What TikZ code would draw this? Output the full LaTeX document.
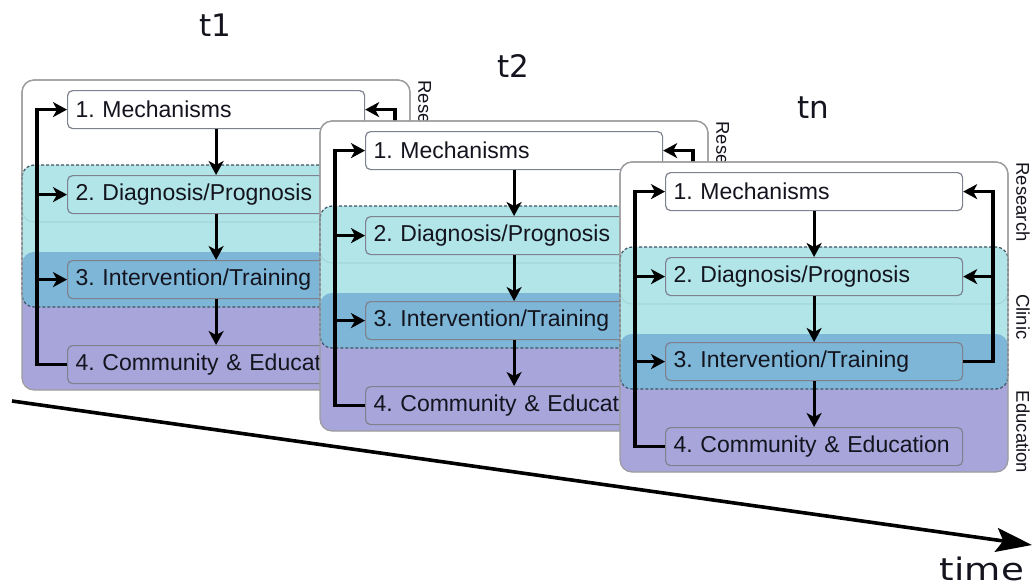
\documentclass[tikz,border=0pt]{standalone}
\usepackage{fontspec}
\setmainfont{Liberation Sans}
\newfontfamily\titleFont{DejaVu Sans}
\usepackage{xcolor}
\usetikzlibrary{arrows.meta, positioning}

\definecolor{panelGray}{HTML}{9C9C9C}
\definecolor{boxGray}{HTML}{7E828E}
\definecolor{dashGray}{HTML}{3E5262}
\definecolor{clinicCyan}{HTML}{A4E1E4}
\definecolor{overlapBlue}{HTML}{7DB6D7}
\definecolor{eduPurple}{HTML}{A8A5DB}
\definecolor{textDark}{HTML}{14141E}

\tikzset{
    stepBox/.style={draw=boxGray, line width=1.2pt, rounded corners=5pt, anchor=north west,
        minimum height=38pt, text width=281pt, inner xsep=8pt, inner ysep=0pt, align=left,
        font=\fontsize{23}{27}\selectfont, text=textDark},
    flowArrow/.style={-{Stealth[length=14pt, width=15pt, inset=4pt]}, line width=3.2pt},
    sideLabel/.style={rotate=-90, font=\fontsize{18.5}{22}\selectfont, text=textDark},
    titleText/.style={anchor=base, inner sep=0pt, font=\titleFont\fontsize{31}{36}\selectfont, text=textDark},
    timeArrow/.style={-{Stealth[length=36pt, width=24pt, inset=7pt]}, line width=3.6pt}
}

% one time slice: name, origin, title
\newcommand{\drawPanel}[3]{%
\begin{scope}[shift={#2}]
    % Panel background and layers
    \fill[white, rounded corners=12pt] (0,0) rectangle (388,310);
    \fill[eduPurple, rounded corners=12pt] (0,172) rectangle (388,310);
    \filldraw[fill=white, draw=panelGray, line width=1.2pt, rounded corners=12pt] (0,0) rectangle (388,142);
    \fill[clinicCyan, fill opacity=0.85, rounded corners=12pt] (0,85) rectangle (388,227);
    \begin{scope}
        \clip[rounded corners=12pt] (0,172) rectangle (388,310);
        \fill[overlapBlue, rounded corners=12pt] (0,85) rectangle (388,227);
    \end{scope}
    \draw[dashGray, densely dashed, line width=1.2pt, rounded corners=12pt] (0,85) rectangle (388,227);
    \draw[panelGray, line width=1.2pt, rounded corners=12pt] (0,0) rectangle (388,310);

    % Steps
    \node[stepBox, fill=white] (#1-1) at (45,10) {1. Mechanisms};
    \node[stepBox] (#1-2) at (45,95) {2. Diagnosis/Prognosis};
    \node[stepBox] (#1-3) at (45,180) {3. Intervention/Training};
    \node[stepBox] (#1-4) at (45,265) {4. Community \& Education};

    % Flow downwards
    \draw[flowArrow] (#1-1) -- (#1-2);
    \draw[flowArrow] (#1-2) -- (#1-3);
    \draw[flowArrow] (#1-3) -- (#1-4);

    % Feedback loops
    \coordinate (#1-left) at (15,0);
    \coordinate (#1-right) at (373,0);
    \draw[flowArrow] (#1-4.west) -- (#1-4.west -| #1-left) |- (#1-1.west);
    \draw[flowArrow] (#1-2.west -| #1-left) -- (#1-2.west);
    \draw[flowArrow] (#1-3.west -| #1-left) -- (#1-3.west);
    \draw[flowArrow] (#1-3.east) -- (#1-3.east -| #1-right) |- (#1-1.east);
    \draw[flowArrow] (#1-2.east -| #1-right) -- (#1-2.east);

    % Layer labels
    \node[sideLabel] (#1-research) at (403,40) {Research};
    \node[sideLabel] (#1-clinic) at (403,155) {Clinic};
    \node[sideLabel] (#1-education) at (403,270) {Education};

    % Time point
    \node[titleText] (#1-title) at (193,-44) {#3};
\end{scope}}

\frenchspacing

\begin{document}
\begin{tikzpicture}[x=1pt, y=-1pt]
    \useasboundingbox (0,0) rectangle (1033,587);

    % Slices, later ones on top
    \drawPanel{pa}{(22,80)}{t1}
    \drawPanel{pb}{(320,121)}{t2}
    \drawPanel{pn}{(620,162)}{tn}

    % Time axis
    \coordinate (timeStart) at (12,401);
    \coordinate (timeEnd) at (1032,545);
    \draw[timeArrow] (timeStart) -- (timeEnd);
    \node[titleText, xscale=1.2] (timeLabel) at (982,580) {time};
\end{tikzpicture}
\end{document}
